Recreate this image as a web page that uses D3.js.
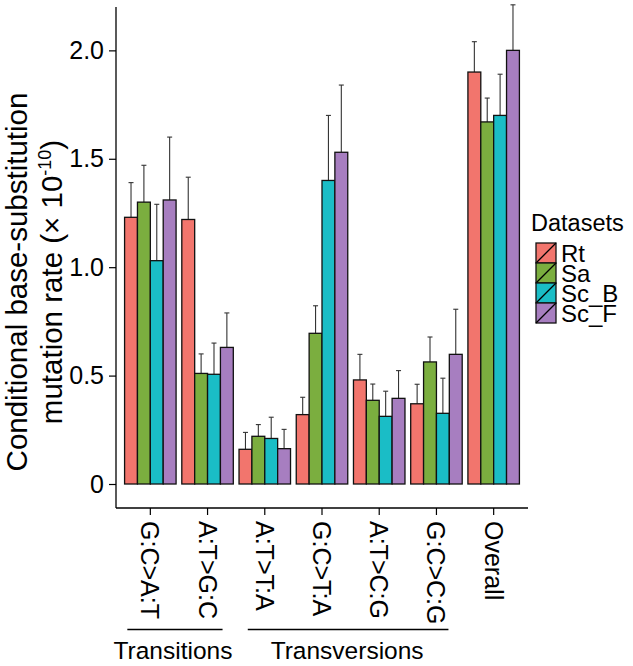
<!DOCTYPE html>
<html>
<head>
<meta charset="utf-8">
<script src="https://cdn.jsdelivr.net/npm/d3@7"></script>
<style>
  html, body { margin: 0; padding: 0; background: #fff; }
  text { font-family: "Liberation Sans", Arial, Helvetica, sans-serif; fill: #000; }
</style>
</head>
<body>
<svg id="chart" width="633" height="666"></svg>
<script>
const categories = ["G:C>A:T", "A:T>G:C", "A:T>T:A", "G:C>T:A", "A:T>C:G", "G:C>C:G", "Overall"];
const datasets = ["Rt", "Sa", "Sc_B", "Sc_F"];
const colors = ["#F2756D", "#7BAE3F", "#1ABDC6", "#A77EC0"];
const valuesRt   = [1.23, 1.22, 0.16, 0.32, 0.48, 0.37, 1.90];
const valuesSa   = [1.30, 0.51, 0.22, 0.695, 0.386, 0.563, 1.67];
const valuesScB  = [1.03, 0.506, 0.21, 1.40, 0.312, 0.326, 1.70];
const valuesScF  = [1.31, 0.63, 0.163, 1.53, 0.395, 0.598, 2.00];
const errTopRt   = [1.39, 1.415, 0.238, 0.40, 0.598, 0.46, 2.04];
const errTopSa   = [1.47, 0.60, 0.274, 0.822, 0.461, 0.678, 1.78];
const errTopScB  = [1.29, 0.65, 0.308, 1.70, 0.428, 0.488, 1.89];
const errTopScF  = [1.60, 0.789, 0.252, 1.84, 0.523, 0.806, 2.21];
const yTicks = [0, 0.5, 1.0, 1.5, 2.0];
const yTickLabels = ["0", "0.5", "1.0", "1.5", "2.0"];
const groupNames = ["Transitions", "Transversions"];
const groupSpans = [["G:C>A:T", "A:T>G:C"], ["A:T>T:A", "G:C>C:G"]];

(function () {
const series = [valuesRt, valuesSa, valuesScB, valuesScF];
const errs = [errTopRt, errTopSa, errTopScB, errTopScF];
const rows = [];
categories.forEach((c, i) => datasets.forEach((d, j) => {
  rows.push({cat: c, ds: d, v: series[j][i], e: errs[j][i], col: colors[j]});
}));

const svg = d3.select("#chart");
const pLeft = 116, pRight = 528, pTop = 7, axisY = 508;

const x = d3.scaleBand().domain(categories).range([pLeft, pRight])
  .paddingInner(0.1).paddingOuter(0.15);
const xs = d3.scaleBand().domain(datasets).range([0, x.bandwidth()]).padding(0);
const y = d3.scaleLinear().domain([0, 2.2]).range([484, pTop]);
const xc = c => x(c) + x.bandwidth() / 2;

// error bars
const eg = svg.append("g");
rows.forEach(r => {
  const cx = x(r.cat) + xs(r.ds) + xs.bandwidth() / 2;
  eg.append("line").attr("x1", cx).attr("x2", cx).attr("y1", y(r.v)).attr("y2", y(r.e))
    .attr("stroke", "#333").attr("stroke-width", 1.1);
  eg.append("line").attr("x1", cx - 2.5).attr("x2", cx + 2.5).attr("y1", y(r.e)).attr("y2", y(r.e))
    .attr("stroke", "#333").attr("stroke-width", 1.1);
});

// bars
svg.append("g").selectAll("rect").data(rows).join("rect")
  .attr("x", r => x(r.cat) + xs(r.ds))
  .attr("width", xs.bandwidth())
  .attr("y", r => y(r.v))
  .attr("height", r => y(0) - y(r.v))
  .attr("fill", r => r.col)
  .attr("stroke", "#111").attr("stroke-width", 1.3);

// y axis
const yAxis = d3.axisLeft(y).tickValues(yTicks).tickFormat((d, i) => yTickLabels[i])
  .tickSize(7).tickPadding(5);
const gy = svg.append("g").attr("transform", `translate(${pLeft},0)`).call(yAxis);
gy.select(".domain").remove();
gy.selectAll("line").attr("stroke", "#000").attr("stroke-width", 1.2);
gy.selectAll("text").attr("font-size", 25).attr("font-family", "Liberation Sans, Arial, sans-serif").attr("fill", "#000");
svg.append("line").attr("x1", pLeft).attr("x2", pLeft).attr("y1", pTop).attr("y2", axisY)
  .attr("stroke", "#000").attr("stroke-width", 1.3);

// x axis
svg.append("line").attr("x1", pLeft).attr("x2", pRight).attr("y1", axisY).attr("y2", axisY)
  .attr("stroke", "#000").attr("stroke-width", 1.3);
const xAxis = d3.axisBottom(x).tickSize(7).tickSizeOuter(0);
const gx = svg.append("g").attr("transform", `translate(0,${axisY})`).call(xAxis);
gx.select(".domain").remove();
gx.selectAll("line").attr("stroke", "#000").attr("stroke-width", 1.2);
gx.selectAll("text")
  .attr("font-size", 25).attr("font-family", "Liberation Sans, Arial, sans-serif").attr("fill", "#000")
  .attr("text-anchor", "start").attr("dy", null).attr("y", 0).attr("x", 0)
  .attr("dominant-baseline", "central")
  .attr("transform", "translate(0,13) rotate(90)");

// group brackets
const startOff = [-23, -17], endOff = [15, 12], labelShift = [-2, -1];
groupSpans.forEach((sp, i) => {
  const x1 = xc(sp[0]) + startOff[i], x2 = xc(sp[1]) + endOff[i];
  svg.append("line").attr("x1", x1).attr("x2", x2).attr("y1", 629.5).attr("y2", 629.5)
    .attr("stroke", "#000").attr("stroke-width", 1.4);
  svg.append("text").attr("x", (x1 + x2) / 2 + labelShift[i]).attr("y", 659)
    .attr("text-anchor", "middle").attr("font-size", 24.5).text(groupNames[i]);
});

// y title
const yt = svg.append("g").attr("transform", "translate(27,282) rotate(-90)");
yt.append("text").attr("text-anchor", "middle").attr("font-size", 29.5)
  .text("Conditional base-substitution");
const t2 = yt.append("text").attr("text-anchor", "middle").attr("font-size", 29.5).attr("y", 35);
t2.append("tspan").text("mutation rate (\u00d7 10");
t2.append("tspan").attr("font-size", 18).attr("dy", -11).text("-10");
t2.append("tspan").attr("dy", 11).text(")");

// legend
const lg = svg.append("g").attr("transform", "translate(531,0)");
lg.append("text").attr("x", 0).attr("y", 231).attr("font-size", 23.5).text("Datasets");
datasets.forEach((d, i) => {
  const ky = 243 + i * 20;
  lg.append("rect").attr("x", 5).attr("y", ky).attr("width", 20).attr("height", 20)
    .attr("fill", colors[i]).attr("stroke", "#111").attr("stroke-width", 1.3);
  lg.append("line").attr("x1", 5).attr("y1", ky + 20).attr("x2", 25).attr("y2", ky)
    .attr("stroke", "#000").attr("stroke-width", 1.3);
  lg.append("text").attr("x", 30).attr("y", ky + 10).attr("dominant-baseline", "central")
    .attr("font-size", 24).text(d);
});
})();
</script>
</body>
</html>
